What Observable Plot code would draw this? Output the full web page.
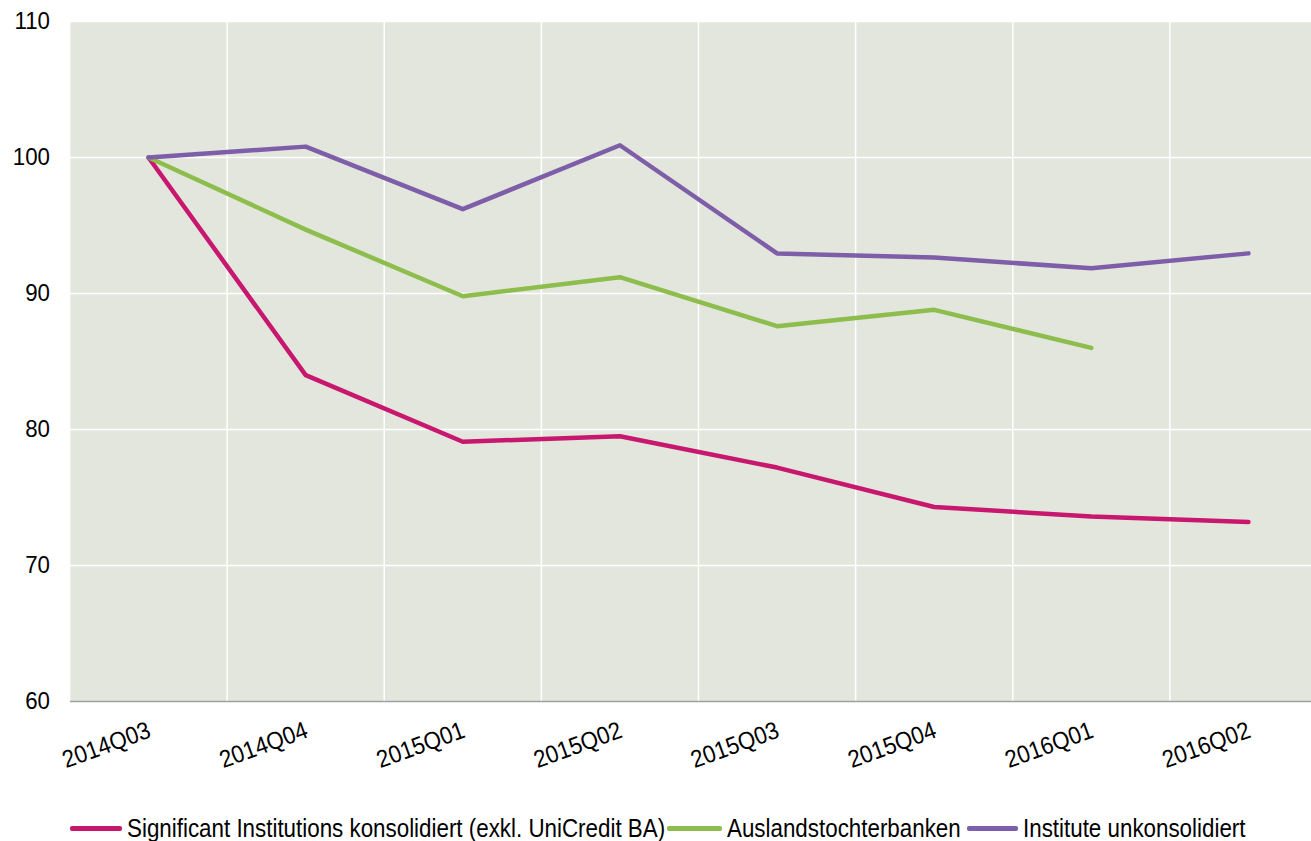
<!DOCTYPE html>
<html>
<head>
<meta charset="utf-8">
<script src="https://cdn.jsdelivr.net/npm/d3@7"></script>
<script src="https://cdn.jsdelivr.net/npm/@observablehq/plot@0.6"></script>
<style>
  html, body { margin: 0; padding: 0; background: #fff; }
  #wrap { position: relative; width: 1311px; height: 841px; font-family: "Liberation Sans", Arial, sans-serif; }
  .sw { position: absolute; top: 826px; height: 4.5px; border-radius: 2px; }
  .lt { position: absolute; top: 813px; height: 30px; line-height: 30px; font-size: 26px; color: #000; white-space: nowrap; transform: scaleX(0.86); transform-origin: 0 50%; }
</style>
</head>
<body>
<div id="wrap"><div id="chart"></div><div id="legend"></div></div>
<script>
const quarters = ["2014Q03", "2014Q04", "2015Q01", "2015Q02", "2015Q03", "2015Q04", "2016Q01", "2016Q02"];
const significant = [100, 84.0, 79.1, 79.5, 77.2, 74.3, 73.6, 73.2];
const ausland = [100, 94.7, 89.8, 91.2, 87.6, 88.8, 86.0, null];
const unkonsolidiert = [100, 100.8, 96.2, 100.9, 92.95, 92.65, 91.85, 92.95];
const seriesNames = ["Significant Institutions konsolidiert (exkl. UniCredit BA)", "Auslandstochterbanken", "Institute unkonsolidiert"];
const seriesColors = ["#c8176e", "#8dbd4c", "#7e5ea8"];
const yTicks = [60, 70, 80, 90, 100, 110];

const allSeries = [significant, ausland, unkonsolidiert];
const rows = [];
allSeries.forEach((vals, s) => vals.forEach((v, i) => { if (v != null) rows.push({series: seriesNames[s], i, v}); }));
const idx = quarters.map((q, i) => i);
const bounds = d3.range(0.5, 7, 1);
const font = "Liberation Sans, Arial, sans-serif";

const chart = Plot.plot({
  width: 1311,
  height: 790,
  marginLeft: 70,
  marginRight: 0,
  marginTop: 21,
  marginBottom: 89,
  style: {fontFamily: font, fontSize: "24.5px", color: "#000", background: "#fff"},
  x: {type: "linear", domain: [-0.5, 7.5], range: [69.5, 1326.5], axis: null},
  y: {domain: [60, 110], axis: null},
  color: {domain: seriesNames, range: seriesColors},
  marks: [
    Plot.frame({fill: "#e3e6dc", stroke: null}),
    Plot.ruleY([70, 80, 90, 100, 110], {stroke: "#ffffff", strokeWidth: 1.5}),
    Plot.ruleX(bounds, {y1: 60, y2: 110, stroke: "#ffffff", strokeWidth: 1.5}),
    Plot.ruleY([60], {stroke: "#a0a0a0", strokeWidth: 1.5}),
    Plot.text(yTicks, {x: -0.5, y: d => d, text: d => String(d), rotate: 0.0001, textAnchor: "end", lineAnchor: "middle", dx: -20, fontSize: 24.5, fill: "#000"}),
    Plot.text(idx, {x: d => d, y: 60, text: d => quarters[d], rotate: -20, textAnchor: "end", lineAnchor: "middle", dx: 1, dy: 28, fontSize: 24.5, fill: "#000"}),
    Plot.line(rows, {x: "i", y: "v", z: "series", stroke: "series", strokeWidth: 4.5, strokeLinejoin: "round", strokeLinecap: "round"})
  ]
});
// condense label glyphs horizontally (reference uses a narrow sans)
chart.querySelectorAll("text").forEach(t => {
  const tr = t.getAttribute("transform");
  if (tr) t.setAttribute("transform", tr + " scale(0.91,1)");
});
document.getElementById("chart").appendChild(chart);

const legend = document.getElementById("legend");
const swLeft = [70, 667, 967];
const swWidth = [52, 55, 51];
const txtLeft = [127, 727, 1023];
seriesNames.forEach((name, k) => {
  const sw = document.createElement("div");
  sw.className = "sw";
  sw.style.left = swLeft[k] + "px";
  sw.style.width = swWidth[k] + "px";
  sw.style.background = seriesColors[k];
  const t = document.createElement("div");
  t.className = "lt";
  t.style.left = txtLeft[k] + "px";
  t.textContent = name;
  legend.appendChild(sw);
  legend.appendChild(t);
});
</script>
</body>
</html>
